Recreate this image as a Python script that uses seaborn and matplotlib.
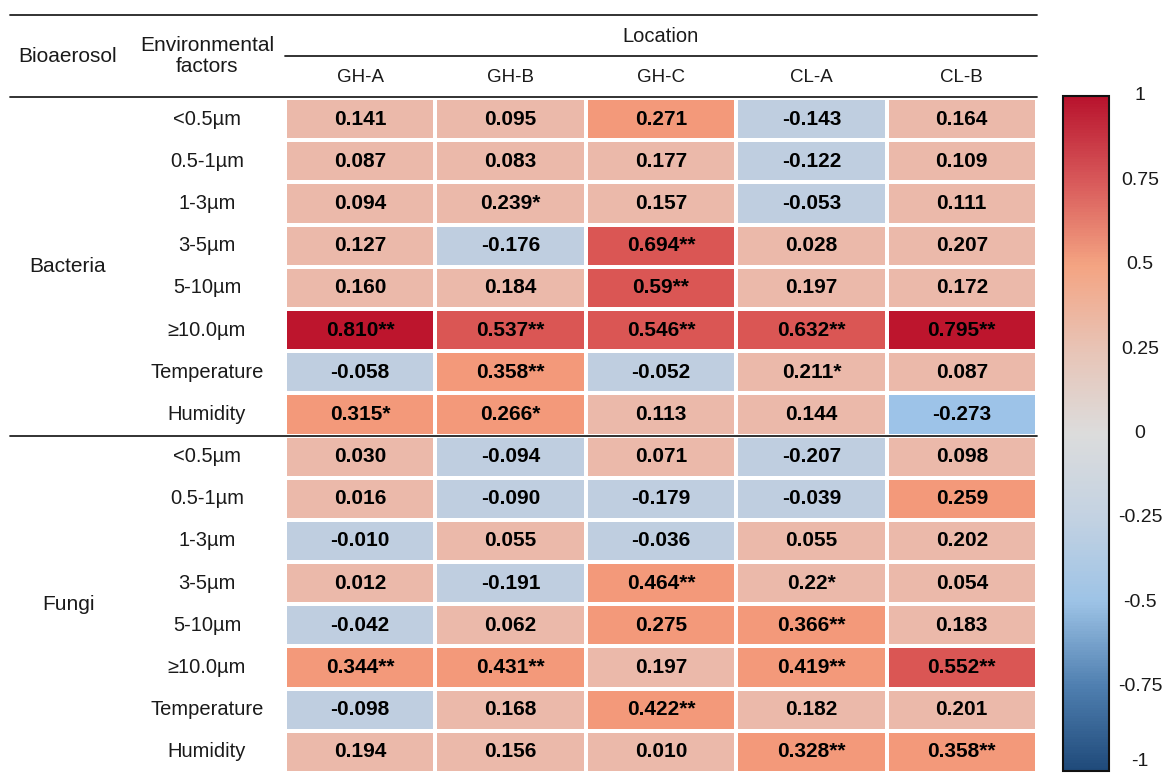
import numpy as np
import pandas as pd
import matplotlib
matplotlib.use("Agg")
import matplotlib.pyplot as plt
import seaborn as sns
from matplotlib.colors import ListedColormap, BoundaryNorm, LinearSegmentedColormap, Normalize
from matplotlib.lines import Line2D
from matplotlib import font_manager
from matplotlib.transforms import blended_transform_factory, ScaledTranslation

# ---- data -------------------------------------------------------------
locations = ["GH-A", "GH-B", "GH-C", "CL-A", "CL-B"]
factors = ["<0.5µm", "0.5-1µm", "1-3µm", "3-5µm", "5-10µm", "≥10.0µm",
           "Temperature", "Humidity"]
groups = ["Bacteria", "Fungi"]

# correlation coefficients as reported (text keeps the printed precision)
bacteria_r = [
    ["0.141", "0.095", "0.271", "-0.143", "0.164"],
    ["0.087", "0.083", "0.177", "-0.122", "0.109"],
    ["0.094", "0.239", "0.157", "-0.053", "0.111"],
    ["0.127", "-0.176", "0.694", "0.028", "0.207"],
    ["0.160", "0.184", "0.59", "0.197", "0.172"],
    ["0.810", "0.537", "0.546", "0.632", "0.795"],
    ["-0.058", "0.358", "-0.052", "0.211", "0.087"],
    ["0.315", "0.266", "0.113", "0.144", "-0.273"],
]
fungi_r = [
    ["0.030", "-0.094", "0.071", "-0.207", "0.098"],
    ["0.016", "-0.090", "-0.179", "-0.039", "0.259"],
    ["-0.010", "0.055", "-0.036", "0.055", "0.202"],
    ["0.012", "-0.191", "0.464", "0.22", "0.054"],
    ["-0.042", "0.062", "0.275", "0.366", "0.183"],
    ["0.344", "0.431", "0.197", "0.419", "0.552"],
    ["-0.098", "0.168", "0.422", "0.182", "0.201"],
    ["0.194", "0.156", "0.010", "0.328", "0.358"],
]
# significance marks
bacteria_sig = [
    ["", "", "", "", ""],
    ["", "", "", "", ""],
    ["", "*", "", "", ""],
    ["", "", "**", "", ""],
    ["", "", "**", "", ""],
    ["**", "**", "**", "**", "**"],
    ["", "**", "", "*", ""],
    ["*", "*", "", "", ""],
]
fungi_sig = [
    ["", "", "", "", ""],
    ["", "", "", "", ""],
    ["", "", "", "", ""],
    ["", "", "**", "*", ""],
    ["", "", "", "**", ""],
    ["**", "**", "", "**", "**"],
    ["", "", "**", "", ""],
    ["", "", "", "**", "**"],
]
cbar_ticks = [1, 0.75, 0.5, 0.25, 0, -0.25, -0.5, -0.75, -1]

# ---- assemble ---------------------------------------------------------
r_text = np.array(bacteria_r + fungi_r)
sig = np.array(bacteria_sig + fungi_sig)
values = r_text.astype(float)
annot = np.char.add(r_text, sig)
index = pd.MultiIndex.from_product([groups, factors], names=["Bioaerosol", "Factor"])
df = pd.DataFrame(values, index=index, columns=locations)

# ---- styling ----------------------------------------------------------
sns.set_style("white")
plt.rcParams["font.family"] = ["Liberation Sans", "DejaVu Sans"]
installed = {f.name for f in font_manager.fontManager.ttflist}
has_narrow = "Liberation Sans Narrow" in installed
narrow = ["Liberation Sans Narrow", "Liberation Sans", "DejaVu Sans"] \
    if has_narrow else ["Liberation Sans", "DejaVu Sans"]
col_size = 14.5 if has_narrow else 13.5

bounds = [-1, -0.75, -0.5, -0.25, 0, 0.25, 0.5, 0.75, 1]
bin_colors = ["#234f80", "#5a8bbf", "#9dc3e8", "#bfcee0",
              "#ebb9aa", "#f3997a", "#da5654", "#bd152d"]
cell_cmap = ListedColormap(bin_colors)
cell_norm = BoundaryNorm(bounds, cell_cmap.N)

bar_cmap = LinearSegmentedColormap.from_list("bar", [
    (0.0, "#1f4a7a"), (0.125, "#4f7fb0"), (0.25, "#9dc3e6"), (0.375, "#c3d2e2"),
    (0.5, "#dcdcdc"), (0.625, "#e8c4b6"), (0.75, "#f4a482"), (0.875, "#d8595a"),
    (1.0, "#b8132d")])

W, H = 1162, 776
fig = plt.figure(figsize=(W / 100, H / 100), dpi=100)
TXT = "#1a1a1a"

def px_axes(x0, y0, x1, y1):
    return fig.add_axes([x0 / W, 1 - y1 / H, (x1 - x0) / W, (y1 - y0) / H])

ax = px_axes(285, 98, 1037, 773)
sns.heatmap(df, ax=ax, cmap=cell_cmap, norm=cell_norm, cbar=False,
            annot=annot, fmt="", linewidths=1.5, linecolor="white",
            annot_kws=dict(fontsize=15, fontweight="bold", color="black"))
ax.set_xticks([])
ax.set_yticks([])
ax.set_xlabel("")
ax.set_ylabel("")

# row labels (factors) centred in the second column of the table
row_tr = blended_transform_factory(fig.transFigure, ax.transData)
for i, (g, f) in enumerate(df.index):
    ax.text(207 / W, i + 0.5, f, transform=row_tr, ha="center", va="center",
            fontsize=14.5, color=TXT)
for k, g in enumerate(groups):
    ax.text(68 / W, k * len(factors) + len(factors) / 2, g, transform=row_tr,
            ha="center", va="center", fontsize=15, color=TXT)

# column labels
col_tr = blended_transform_factory(ax.transData, fig.transFigure)
for j, loc in enumerate(locations):
    ax.text(j + 0.5, 1 - 78 / H, loc, transform=col_tr, ha="center", va="center",
            fontsize=col_size, family=narrow, color=TXT)

fig.text((285 + 1037) / 2 / W, 1 - 37 / H, "Location", ha="center", va="center",
         fontsize=14.5, color=TXT)
fig.text(68 / W, 1 - 57 / H, "Bioaerosol", ha="center", va="center",
         fontsize=15, color=TXT)
fig.text(207 / W, 1 - 56 / H, "Environmental\nfactors", ha="center", va="center",
         fontsize=15, linespacing=1.15, color=TXT)

# table rules
def hline(y, x0, x1, lw):
    fig.add_artist(Line2D([x0 / W, x1 / W], [1 - y / H, 1 - y / H],
                          transform=fig.transFigure, color="#222222", lw=lw))

hline(15, 10, 1037, 1.3)
hline(56, 285, 1037, 1.3)
hline(97, 10, 1037, 1.3)
sep_tr = blended_transform_factory(fig.transFigure, ax.transData)
ax.add_artist(Line2D([10 / W, 1037 / W], [len(factors), len(factors)],
                     transform=sep_tr, color="#222222", lw=1.3, clip_on=False))

# continuous colour bar
cax = px_axes(1063, 96, 1109, 771)
sm = plt.cm.ScalarMappable(cmap=bar_cmap, norm=Normalize(-1, 1))
cb = fig.colorbar(sm, cax=cax)
cb.outline.set_linewidth(1.5)
cb.outline.set_edgecolor("#111111")
cax.set_yticks([])
cb_tr = blended_transform_factory(cax.transAxes, cax.transData)
for t in cbar_ticks:
    lab = "{:g}".format(t)
    tr = cb_tr
    if t == cbar_ticks[-1]:
        # keep the lowest label inside the canvas
        tr = cb_tr + ScaledTranslation(0, 7 / 72, fig.dpi_scale_trans)
    cax.text((1140 - 1063) / 46, t, lab, transform=tr, ha="center",
             va="center", fontsize=14, color=TXT, clip_on=False)

fig.savefig("out.png", dpi=100)
